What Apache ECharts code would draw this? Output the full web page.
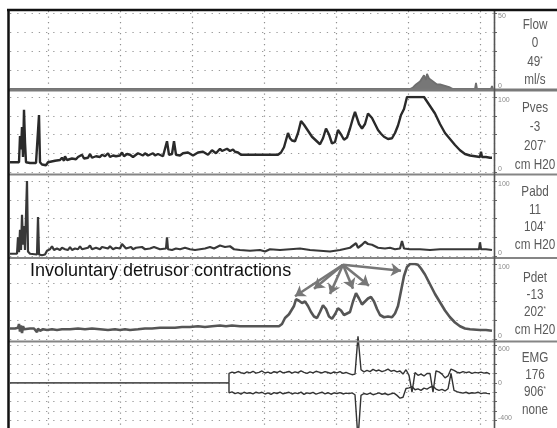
<!DOCTYPE html>
<html>
<head>
<meta charset="utf-8">
<script src="https://cdn.jsdelivr.net/npm/echarts@6/dist/echarts.min.js"></script>
<style>
  html, body { margin: 0; padding: 0; background: #fff; }
  #chart { width: 557px; height: 428px; }
</style>
</head>
<body>
<div id="chart"></div>
<script>
// Urodynamic filling cystometry trace: five stacked channels sharing one time axis.
// Time is in seconds; one grid division is 72 s.

const timeMin = 34;
const timeMax = 518;
const firstDivision = 72;   // first full division line after the start of the sheet
const timeDivision = 72;

// Channel read-outs shown in the right-hand column
const channelNames    = ['Flow', 'Pves', 'Pabd', 'Pdet', 'EMG'];
const channelReadouts = ['0', '-3', '11', '-13', '176'];
const channelRanges   = ['49', '207', '104', '202', '906'];
const channelUnits    = ['ml/s', 'cm H20', 'cm H20', 'cm H20', 'none'];

// Axis scales and their tick labels
const flowScale = [0, 50];
const pressureScale = [0, 100];
const emgScale = [-600, 600];
const flowTickLabels = [[50, '50'], [0, '0']];
const pressureTickLabels = [[100, '100'], [0, '0']];
const emgTickLabels = [[600, '600'], [0, '0'], [-600, '-400']];

// Flow (ml/s): [time, value]
const flowTrace = [[34,0],[434,0],[437,1],[440,3],[442,2],[444,5],[446,4],[448,9],[450,6],[451,10],[453,7],[455,8],[457,5],[459,6],[461,3],[464,3],[466,2],[469,2],[471,1],[474,1],[477,0],[499,0],[500,4],[501,0],[515,0],[516,2],[517,0]];

// Vesical pressure (cm H2O)
const pvesTrace = [[34,13],[38,13],[43,13],[44,48],[45,30],[46,60],[47,20],[48,83],[49,40],[50,13],[54,12],[60,12],[62,13],[63,76],[64,13],[66,10],[70,9],[72,13],[79,15],[84,16],[86,19],[88,15],[89,21],[91,16],[96,18],[100,17],[102,20],[104,18],[106,23],[108,18],[112,19],[114,24],[116,19],[120,21],[124,20],[126,23],[129,21],[132,25],[134,20],[137,22],[140,21],[144,22],[146,26],[148,21],[151,24],[154,23],[157,20],[159,21],[162,25],[164,24],[167,22],[169,25],[172,22],[174,23],[177,25],[179,22],[182,24],[184,23],[187,21],[189,22],[191,41],[193,23],[196,24],[198,41],[200,23],[202,21],[204,22],[207,25],[209,23],[212,26],[214,25],[217,22],[219,24],[222,26],[224,24],[227,27],[229,26],[232,23],[234,24],[236,29],[238,28],[240,25],[242,26],[244,31],[246,28],[248,27],[251,31],[254,28],[257,30],[259,27],[262,26],[265,23],[274,23],[284,23],[294,23],[302,23],[305,26],[308,33],[310,31],[312,52],[314,45],[316,42],[319,41],[322,52],[325,68],[328,63],[332,55],[336,47],[340,42],[344,37],[347,45],[350,58],[353,50],[356,38],[359,40],[362,56],[365,50],[368,43],[371,46],[374,58],[377,72],[379,80],[381,72],[383,64],[386,58],[389,64],[392,78],[394,80],[396,72],[399,64],[402,56],[405,51],[408,47],[412,44],[416,45],[419,52],[422,62],[425,76],[428,84],[431,100],[448,100],[451,94],[454,88],[459,78],[464,64],[469,52],[474,44],[479,36],[484,29],[489,24],[494,22],[499,21],[504,20],[505,27],[506,20],[510,20],[514,19],[516,19]];

// Abdominal pressure (cm H2O)
const pabdTrace = [[34,3],[41,3],[42,25],[43,5],[44,35],[45,8],[46,55],[47,15],[48,40],[49,8],[51,100],[52,6],[54,3],[61,2],[62,52],[63,2],[66,1],[69,2],[71,7],[74,9],[76,13],[78,8],[81,10],[84,8],[86,11],[89,9],[92,8],[94,12],[96,8],[99,10],[102,9],[104,13],[106,9],[109,10],[112,11],[114,14],[116,9],[120,11],[124,9],[126,12],[129,11],[132,10],[134,13],[137,9],[140,11],[142,12],[144,10],[146,16],[148,13],[150,10],[152,11],[155,12],[157,9],[160,11],[162,10],[166,12],[169,9],[174,10],[178,12],[184,9],[190,10],[191,25],[192,9],[196,8],[200,10],[204,9],[209,11],[214,9],[219,8],[224,9],[229,10],[234,12],[238,10],[244,14],[249,12],[254,13],[258,9],[264,8],[274,7],[284,8],[289,6],[294,9],[304,8],[314,9],[324,10],[334,8],[344,7],[354,6],[364,8],[374,11],[380,17],[382,11],[386,15],[389,19],[392,16],[396,15],[402,11],[409,10],[414,11],[419,9],[424,10],[426,20],[428,10],[434,9],[444,9],[454,8],[464,9],[474,9],[484,9],[494,9],[499,9],[503,9],[504,18],[505,9],[510,9],[516,8]];

// Detrusor pressure (cm H2O)
const pdetTrace = [[34,14],[39,14],[42,15],[43,20],[44,10],[45,18],[46,8],[47,17],[48,13],[50,15],[54,14],[58,14],[60,16],[61,9],[62,14],[64,11],[67,13],[71,12],[76,13],[81,12],[86,13],[94,13],[102,14],[109,13],[116,14],[124,13],[132,12],[139,13],[144,12],[149,13],[154,12],[162,13],[169,14],[176,14],[184,15],[192,15],[199,15],[206,16],[214,16],[222,17],[229,16],[236,17],[244,18],[250,17],[256,18],[264,17],[274,17],[284,17],[294,17],[303,17],[306,20],[309,28],[311,26],[313,33],[315,31],[318,44],[320,53],[323,51],[326,48],[329,50],[332,44],[335,36],[338,30],[341,28],[344,36],[347,45],[350,40],[353,30],[356,27],[359,33],[362,41],[365,38],[368,32],[371,34],[374,36],[377,50],[380,61],[383,54],[386,46],[389,50],[392,54],[395,56],[398,50],[401,40],[404,32],[408,29],[412,30],[416,29],[419,34],[422,44],[425,64],[428,84],[431,96],[434,100],[439,100],[442,99],[445,94],[449,86],[454,73],[459,60],[464,49],[469,38],[474,29],[479,22],[484,17],[489,14],[494,13],[504,12],[510,12],[516,11]];

// Annotation arrows: from the caption towards the involuntary contractions
const arrowSource = [367, 99];
const arrowTips = [[319, 57], [338, 67], [354, 60], [377, 67], [393, 71], [425, 91]];

// EMG: flat until the electrodes are live, then positive / negative envelopes
const recordStart = 34;
const emgStart = 253;
const emgStep = 3;
const emgUpper = [150,172,158,181,163,149,176,160,185,155,
  168,190,158,172,150,178,165,188,160,170,
  182,155,175,162,190,168,150,176,160,185,
  172,158,180,165,150,174,160,178,152,166,
  148,130,140,745,210,175,198,180,215,190,
  205,178,196,220,185,200,175,190,140,210,
  120,-150,165,120,140,110,150,150,-150,190,
  175,140,80,110,220,200,170,158,180,162,
  175,150,168,160,172,155,165,140];
const emgLower = [-160,-145,-172,-155,-180,-150,-168,-158,-175,-150,
  -165,-150,-178,-160,-185,-155,-170,-148,-175,-162,
  -150,-178,-160,-172,-148,-185,-160,-170,-152,-180,
  -165,-150,-175,-158,-182,-160,-170,-155,-178,-165,
  -172,-160,-190,-900,-200,-170,-185,-165,-190,-175,
  -160,-182,-170,-190,-175,-165,-200,-245,-230,-90,
  -80,-60,-110,-95,-120,-85,-100,-70,-55,-100,
  -120,-105,-130,-95,150,-120,-140,-155,-165,-150,
  -170,-158,-165,-150,-172,-160,-168,-175];

const caption = 'Involuntary detrusor contractions';

// ---------------------------------------------------------------------------

const emgSeries = (vals) =>
  [[emgStart, 0]].concat(vals.map((v, i) => [emgStart + i * emgStep, v]));

const narrowFont = "'Liberation Sans', Arial, sans-serif";
const plotLeft = 10, plotWidth = 484;

const panels = [
  { top: 13,    height: 76,   scale: flowScale,     ticks: flowTickLabels,     interval: 12.5 },
  { top: 97,    height: 75,   scale: pressureScale, ticks: pressureTickLabels, interval: 25 },
  { top: 181,   height: 75,   scale: pressureScale, ticks: pressureTickLabels, interval: 25 },
  { top: 264,   height: 75,   scale: pressureScale, ticks: pressureTickLabels, interval: 25 },
  { top: 345.3, height: 75.1, scale: emgScale,      ticks: emgTickLabels,      interval: 150 }
];

// One grid per channel, plus a sheet-wide grid that carries the vertical time divisions
const divisionLeft = plotLeft + (firstDivision - timeMin) * plotWidth / (timeMax - timeMin);
const grids = panels.map(p => ({ left: plotLeft, width: plotWidth, top: p.top, height: p.height }));
grids.push({ left: divisionLeft, right: 557 - plotLeft - plotWidth, top: 11, bottom: 0 });

const xAxes = panels.map((p, i) => ({
  type: 'value', gridIndex: i, min: timeMin, max: timeMax,
  axisLine: { show: false }, axisTick: { show: false }, axisLabel: { show: false },
  splitLine: { show: false }
}));
xAxes.push({
  type: 'value', gridIndex: 5, min: firstDivision, max: timeMax, interval: timeDivision,
  axisLine: { show: false }, axisTick: { show: false }, axisLabel: { show: false },
  splitLine: { show: true, lineStyle: { color: '#8f8f8f', width: 1.2, type: [1.3, 4.2] } }
});

const yAxes = panels.map((p, i) => {
  const map = new Map(p.ticks);
  const maxV = p.scale[1], minV = p.scale[0];
  return {
    type: 'value', gridIndex: i, position: 'right',
    min: minV, max: maxV, interval: p.interval,
    axisLine: { show: false },
    axisTick: { show: true, length: 3, lineStyle: { color: '#666', width: 1 } },
    splitLine: { show: true, lineStyle: { color: '#9a9a9a', width: 1.2, type: [1.3, 5.9] } },
    axisLabel: {
      show: true, margin: 4, fontSize: 7, color: '#8a8a8a',
      formatter: v => {
        if (!map.has(v)) return '';
        if (v === maxV) return '{hi|' + map.get(v) + '}';
        if (v === minV) return '{lo|' + map.get(v) + '}';
        return map.get(v);
      },
      rich: {
        hi: { fontSize: 7, color: '#8a8a8a', padding: [7, 0, 0, 0] },
        lo: { fontSize: 7, color: '#8a8a8a', padding: [0, 0, 5, 0] }
      }
    }
  };
});
yAxes.push({ type: 'value', gridIndex: 5, min: 0, max: 1, show: false });

const series = [
  {
    name: 'Flow', type: 'line', xAxisIndex: 0, yAxisIndex: 0, data: flowTrace,
    showSymbol: false, lineStyle: { color: '#6e6e6e', width: 1.8 },
    areaStyle: { color: '#777', opacity: 1 }, z: 3
  },
  {
    name: 'Pves', type: 'line', xAxisIndex: 1, yAxisIndex: 1, data: pvesTrace,
    showSymbol: false, lineStyle: { color: '#2a2a2a', width: 2.4 }, z: 3
  },
  {
    name: 'Pabd', type: 'line', xAxisIndex: 2, yAxisIndex: 2, data: pabdTrace,
    showSymbol: false, lineStyle: { color: '#383838', width: 2.2 }, z: 3
  },
  {
    name: 'Pdet', type: 'line', xAxisIndex: 3, yAxisIndex: 3, data: pdetTrace,
    showSymbol: false, lineStyle: { color: '#555', width: 2.6 }, z: 3,
    markLine: {
      silent: true, symbol: ['none', 'arrow'], symbolSize: 10, animation: false,
      label: { show: false },
      lineStyle: { color: '#777', width: 2.6, type: 'solid' },
      data: arrowTips.map(p => [{ coord: arrowSource }, { coord: p }])
    }
  },
  {
    name: 'EMG baseline', type: 'line', xAxisIndex: 4, yAxisIndex: 4,
    data: [[recordStart, 0], [emgStart, 0]],
    showSymbol: false, lineStyle: { color: '#555', width: 1.6 }, z: 3
  },
  {
    name: 'EMG +', type: 'line', xAxisIndex: 4, yAxisIndex: 4, data: emgSeries(emgUpper),
    showSymbol: false, clip: false, lineStyle: { color: '#333', width: 1.4 }, z: 3
  },
  {
    name: 'EMG -', type: 'line', xAxisIndex: 4, yAxisIndex: 4, data: emgSeries(emgLower),
    showSymbol: false, clip: false, lineStyle: { color: '#333', width: 1.4 }, z: 3
  }
];

// Right-hand read-out column and frame
const labelRows = [
  [25, 43, 62, 80],
  [108, 127, 146, 165],
  [192, 210, 227, 245],
  [278, 295, 312, 330],
  [358, 375, 392, 410]
];
const labelCenter = 535;
const readoutText = (y, text) => ({
  type: 'text', x: labelCenter, y: y, z: 100, scaleX: 0.78,
  style: {
    text: text, fill: '#5a5a5a', font: "15px " + narrowFont,
    textAlign: 'center', textVerticalAlign: 'middle'
  }
});
const graphics = [
  { type: 'rect', z: 100, shape: { x: 0, y: 0, width: 7.5, height: 428 }, style: { fill: '#fff' } },
  { type: 'rect', z: 100, shape: { x: 0, y: 0, width: 557, height: 9 }, style: { fill: '#fff' } }
];
[90, 174.5, 258, 341.5].forEach((y, i) => {
  graphics.push({
    type: 'line', z: 101, shape: { x1: 8, y1: y, x2: 557, y2: y },
    style: { stroke: i === 0 ? '#7a7a7a' : '#858585', lineWidth: i === 0 ? 3 : 2 }
  });
});
graphics.push({ type: 'line', z: 101, shape: { x1: 494.5, y1: 10, x2: 494.5, y2: 428 }, style: { stroke: '#555', lineWidth: 1.6 } });
graphics.push({ type: 'line', z: 102, shape: { x1: 7, y1: 10, x2: 557, y2: 10 }, style: { stroke: '#111', lineWidth: 2.5 } });
graphics.push({ type: 'line', z: 102, shape: { x1: 8.5, y1: 9, x2: 8.5, y2: 428 }, style: { stroke: '#111', lineWidth: 2.5 } });

channelNames.forEach((name, i) => {
  const rows = labelRows[i];
  graphics.push(readoutText(rows[0], name));
  graphics.push(readoutText(rows[1], channelReadouts[i]));
  graphics.push({
    type: 'text', x: labelCenter, y: rows[2], z: 100, scaleX: 0.78,
    style: {
      text: '{n|' + channelRanges[i] + '}{s|*}',
      rich: {
        n: { fill: '#5a5a5a', font: "15px " + narrowFont },
        s: { fill: '#5a5a5a', font: "8px " + narrowFont, padding: [0, 0, 6, 0] }
      },
      textAlign: 'center', textVerticalAlign: 'middle'
    }
  });
  graphics.push(readoutText(rows[3], channelUnits[i]));
});

graphics.push({
  type: 'text', x: 30, y: 271, z: 100,
  style: {
    text: caption, fill: '#111', font: "18px 'Liberation Sans', Arial, sans-serif",
    textAlign: 'left', textVerticalAlign: 'middle'
  }
});

const chart = echarts.init(document.getElementById('chart'));
chart.setOption({
  animation: false,
  backgroundColor: '#fff',
  grid: grids,
  xAxis: xAxes,
  yAxis: yAxes,
  series: series,
  graphic: { elements: graphics }
});
</script>
</body>
</html>
